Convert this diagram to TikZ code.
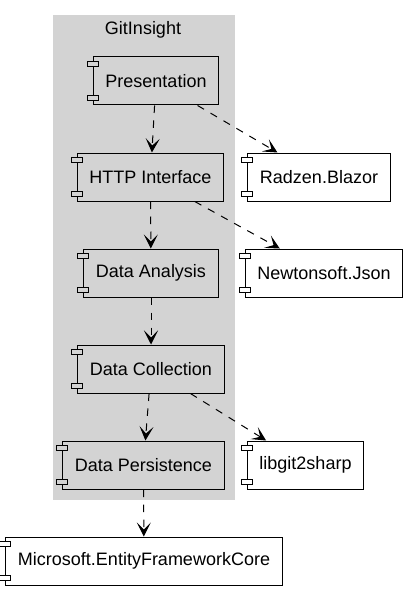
\documentclass[tikz,border=0pt]{standalone}
\usepackage{fontspec}
\setmainfont{Liberation Sans}
\usetikzlibrary{arrows.meta,calc}
\definecolor{clustergray}{RGB}{211,211,211}
\begin{document}
\begin{tikzpicture}[x=1pt,y=-1pt,
    component/.style={draw,line width=1pt,fill=#1,minimum height=48pt,inner xsep=12pt,
        font=\fontsize{18}{21}\selectfont},
    tab/.style={draw,line width=1pt,fill=#1},
    depends/.style={line width=1pt,dash pattern=on 7.5pt off 7.5pt,
        -{Stealth[length=14pt,width=14pt,inset=7pt]}}]
    \useasboundingbox (0,0) rectangle (408,591);
    % the GitInsight cluster
    \fill[clustergray] (53,15) rectangle (235,500);
    \node[font=\fontsize{18}{21}\selectfont] (gitinsight) at (143,30) {GitInsight};
    \node[component=clustergray] (pres) at (156,81) {Presentation};
    \node[component=clustergray] (http) at (150.5,177) {HTTP Interface};
    \node[component=clustergray] (analysis) at (151,273) {Data Analysis};
    \node[component=clustergray] (collection) at (151,369) {Data Collection};
    \node[component=clustergray] (persistence) at (143.5,465) {Data Persistence};
    % external packages
    \node[component=white] (radzen) at (319,177) {Radzen.Blazor};
    \node[component=white] (newtonsoft) at (324,273) {Newtonsoft.Json};
    \node[component=white] (libgit) at (305.5,465) {libgit2sharp};
    \node[component=white] (efcore) at (144,561) {Microsoft.EntityFrameworkCore};
    % component tabs
    \foreach \n/\c in {pres/clustergray,http/clustergray,analysis/clustergray,
        collection/clustergray,persistence/clustergray,radzen/white,
        newtonsoft/white,libgit/white,efcore/white} {
        \draw[tab=\c] ($(\n.north west)+(-5.5,5)$) rectangle ++(11,5);
        \draw[tab=\c] ($(\n.south west)+(-5.5,-5)$) rectangle ++(11,-5);
    }
    % dependencies
    \draw[depends] (pres) -- (http);
    \draw[depends] (pres) -- (radzen);
    \draw[depends] (http) -- (analysis);
    \draw[depends] (http) -- (newtonsoft);
    \draw[depends] (analysis) -- (collection);
    \draw[depends] (collection) -- (persistence);
    \draw[depends] (collection) -- (libgit);
    \draw[depends] (persistence) -- (efcore);
\end{tikzpicture}
\end{document}
